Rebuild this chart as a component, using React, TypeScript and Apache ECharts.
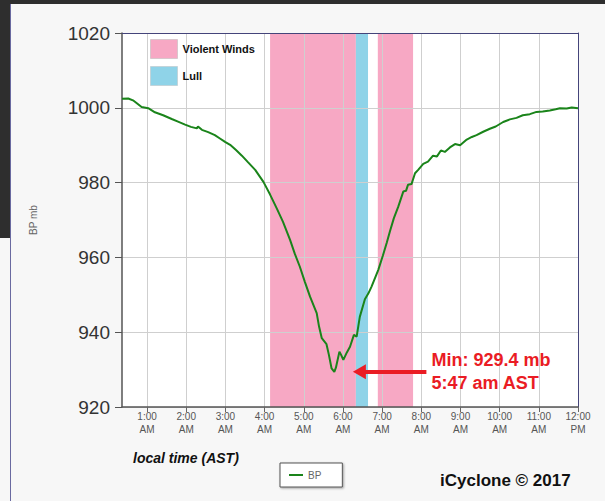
import React, { useEffect, useRef } from "react";
import * as echarts from "echarts";

// Barometric pressure (mb) against local time (decimal hours, AST)
const HOURS = [
  0.36, 0.52, 0.64, 0.69, 0.86, 1.03, 1.2, 1.41, 1.63, 1.79, 1.97, 2.12, 2.27, 2.3, 2.4, 2.56, 2.73, 2.86,
  2.99, 3.12, 3.27, 3.42, 3.58, 3.76, 3.97, 4.14, 4.31, 4.47, 4.65, 4.77, 4.9, 5.03, 5.16, 5.33, 5.39,
  5.46, 5.58, 5.64, 5.71, 5.78, 5.82, 5.91, 5.95, 6.01, 6.1, 6.18, 6.28, 6.35, 6.43, 6.56, 6.65, 6.73,
  6.9, 7.02, 7.12, 7.2, 7.3, 7.41, 7.54, 7.61, 7.66, 7.75, 7.84, 7.92, 8.05, 8.17, 8.3, 8.4, 8.5, 8.6,
  8.73, 8.86, 8.99, 9.16, 9.29, 9.41, 9.58, 9.75, 9.9, 10.09, 10.26, 10.43, 10.59, 10.77, 10.94, 11.1,
  11.28, 11.43, 11.54, 11.71, 11.84, 12.0,
];
const BP = [
  1002.4, 1002.5, 1002.0, 1001.6, 1000.2, 999.9, 998.8, 998.0, 997.0, 996.3, 995.5, 994.9, 994.5, 995.0,
  994.1, 993.5, 992.7, 991.8, 990.9, 990.1, 988.7, 987.2, 985.4, 983.4, 980.2, 976.8, 973.1, 969.5,
  964.7, 961.0, 957.5, 953.4, 949.5, 945.1, 941.5, 938.4, 936.8, 934.0, 930.3, 929.4, 930.5, 934.8,
  934.0, 932.6, 934.6, 936.1, 939.3, 938.8, 944.1, 948.8, 950.4, 952.2, 956.6, 960.5, 964.0, 967.0,
  970.5, 973.5, 977.6, 977.8, 979.4, 979.6, 982.5, 983.4, 985.0, 985.6, 987.2, 987.0, 988.6, 988.2,
  989.4, 990.3, 990.0, 991.5, 992.2, 992.7, 993.6, 994.4, 995.0, 996.2, 996.9, 997.3, 998.0, 998.3,
  998.9, 999.0, 999.3, 999.6, 999.9, 999.8, 1000.1, 999.9,
];
const HOUR_TICKS = [1, 2, 3, 4, 5, 6, 7, 8, 9, 10, 11, 12];
// Shaded periods [start hour, end hour]
const VIOLENT_WINDS = [
  [4.14, 6.33],
  [6.89, 7.79],
];
const LULL = [[6.33, 6.64]];
const MIN_VALUE = 929.4;
const MIN_TIME_LABEL = "5:47 am AST";
const ARROW_FROM_HOUR = 8.13;
const ARROW_TO_HOUR = 6.42;
const NOTE_HOUR = 8.26;

const PINK = "#f7a8c4";
const BLUE = "#8fd3e8";
const GREEN = "#1a841a";
const RED = "#ea1c24";
const FONT = "'Liberation Sans', Arial, sans-serif";

function hourLabel(v: number) {
  const h = Math.round(v);
  const disp = h > 12 ? h - 12 : h;
  return `${disp}:00\n${h >= 12 ? "PM" : "AM"}`;
}

export default function App() {
  const ref = useRef<HTMLDivElement>(null);
  useEffect(() => {
    if (!ref.current) return;
    const chart = echarts.init(ref.current, undefined, { renderer: "svg" });
    const option: any = {
      animation: false,
      backgroundColor: "#f7f7f7",
      textStyle: { fontFamily: FONT },
      grid: {
        left: 122,
        top: 33,
        right: 27,
        bottom: 94,
        show: true,
        backgroundColor: "#ffffff",
        borderWidth: 0,
      },
      legend: [
        {
          orient: "vertical",
          left: 150,
          top: 39,
          padding: 0,
          itemWidth: 27,
          itemHeight: 19,
          itemGap: 7,
          icon: "rect",
          selectedMode: false,
          textStyle: { fontFamily: FONT, fontSize: 11, fontWeight: "bold", color: "#111" },
          data: [
            { name: "Violent Winds", itemStyle: { color: PINK, borderColor: "#d9c6cc", borderWidth: 1 } },
            { name: "Lull", itemStyle: { color: BLUE, borderColor: "#c2d4da", borderWidth: 1 } },
          ],
        },
        {
          left: 280,
          top: 463,
          padding: [7, 21, 7, 9],
          itemWidth: 14,
          itemHeight: 2,
          itemGap: 5,
          icon: "rect",
          selectedMode: false,
          backgroundColor: "#ffffff",
          borderColor: "#555",
          borderWidth: 1,
          shadowColor: "rgba(0,0,0,0.35)",
          shadowBlur: 2,
          shadowOffsetX: 1,
          shadowOffsetY: 1,
          textStyle: { fontFamily: FONT, fontSize: 10, color: "#666" },
          data: [{ name: "BP", itemStyle: { color: GREEN } }],
        },
      ],
      xAxis: [
        {
          type: "value",
          min: HOURS[0],
          max: 12,
          z: 2,
          axisLine: { show: true, onZero: false, lineStyle: { color: "#555", width: 1.5 } },
          axisTick: { show: true, length: 5, customValues: HOUR_TICKS, lineStyle: { color: "#666" } },
          axisLabel: {
            customValues: HOUR_TICKS,
            formatter: hourLabel,
            fontSize: 10,
            lineHeight: 13,
            color: "#555",
            margin: 3,
            fontFamily: FONT,
          },
          splitLine: { show: true, lineStyle: { color: "#cfcfcf", width: 1 } },
        },
        {
          type: "value",
          position: "top",
          min: HOURS[0],
          max: 12,
          z: 2,
          axisLine: { show: true, onZero: false, lineStyle: { color: "#44447a", width: 1 } },
          axisTick: { show: false },
          axisLabel: { show: false },
          splitLine: { show: false },
        },
      ],
      yAxis: [
        {
          type: "value",
          min: 920,
          max: 1020,
          interval: 20,
          z: 2,
          name: "BP mb",
          nameLocation: "middle",
          nameRotate: 90,
          nameGap: 84,
          nameTextStyle: { fontSize: 10, color: "#666", fontFamily: FONT },
          axisLine: { show: true, onZero: false, lineStyle: { color: "#555", width: 1.5 } },
          axisTick: { show: true, length: 7, lineStyle: { color: "#555" } },
          axisLabel: {
            fontSize: 19,
            color: "#333",
            margin: 12,
            fontFamily: FONT,
            formatter: (v: number) => String(v),
          },
          splitLine: { show: true, lineStyle: { color: "#cfcfcf", width: 1 } },
        },
        {
          type: "value",
          position: "right",
          min: 920,
          max: 1020,
          interval: 20,
          z: 2,
          axisLine: { show: true, onZero: false, lineStyle: { color: "#44447a", width: 1 } },
          axisTick: { show: false },
          axisLabel: { show: false },
          splitLine: { show: false },
        },
      ],
      series: [
        {
          name: "Violent Winds",
          type: "line",
          data: [],
          color: PINK,
          itemStyle: { color: PINK },
          markArea: {
            silent: true,
            z: 1,
            itemStyle: { color: PINK },
            data: VIOLENT_WINDS.map(([a, b]) => [{ xAxis: a }, { xAxis: b }]),
          },
        },
        {
          name: "Lull",
          type: "line",
          data: [],
          color: BLUE,
          itemStyle: { color: BLUE },
          markArea: {
            silent: true,
            z: 1,
            itemStyle: { color: BLUE },
            data: LULL.map(([a, b]) => [{ xAxis: a }, { xAxis: b }]),
          },
        },
        {
          name: "BP",
          type: "line",
          z: 3,
          symbol: "none",
          color: GREEN,
          lineStyle: { color: GREEN, width: 2 },
          data: HOURS.map((h, i) => [h, BP[i]]),
          markLine: {
            silent: true,
            symbol: ["none", "none"],
            lineStyle: { color: RED, width: 4, type: "solid" },
            label: { show: false },
            emphasis: { disabled: true },
            data: [
              [
                { coord: [ARROW_FROM_HOUR, MIN_VALUE] },
                { coord: [ARROW_TO_HOUR, MIN_VALUE] },
              ],
            ],
          },
          markPoint: {
            silent: true,
            data: [
              {
                coord: [ARROW_TO_HOUR, MIN_VALUE],
                symbol: "triangle",
                symbolSize: [15, 13],
                symbolRotate: 90,
                itemStyle: { color: RED },
                label: { show: false },
              },
              {
                coord: [NOTE_HOUR, MIN_VALUE],
                symbol: "circle",
                symbolSize: 0,
                label: {
                  show: true,
                  position: "right",
                  distance: 0,
                  formatter: `Min: ${MIN_VALUE} mb\n${MIN_TIME_LABEL}`,
                  fontSize: 18,
                  lineHeight: 23,
                  fontWeight: "bold",
                  color: RED,
                  fontFamily: FONT,
                },
              },
            ],
          },
        },
      ],
      graphic: [
        { type: "rect", z: 100, shape: { x: 0, y: 0, width: 605, height: 4 }, style: { fill: "#2e2e2e" } },
        { type: "rect", z: 100, shape: { x: 0, y: 0, width: 10, height: 238 }, style: { fill: "#2e2e2e" } },
        {
          type: "line",
          z: 100,
          shape: { x1: 10.5, y1: 4, x2: 10.5, y2: 501 },
          style: { stroke: "#6a6aa0", lineWidth: 1 },
        },
        {
          type: "text",
          left: 133,
          top: 451,
          style: {
            text: "local time (AST)",
            fontSize: 14,
            fontWeight: "bold",
            fontStyle: "italic",
            fill: "#111",
            fontFamily: FONT,
          },
        },
        {
          type: "text",
          left: 440,
          top: 472,
          style: {
            text: "iCyclone © 2017",
            fontSize: 17,
            fontWeight: "bold",
            fill: "#111",
            fontFamily: FONT,
          },
        },
      ],
    };
    chart.setOption(option);
    return () => chart.dispose();
  }, []);
  return (
    <div
      ref={ref}
      style={{ position: "fixed", left: 0, top: 0, width: 605, height: 501 }}
    />
  );
}
